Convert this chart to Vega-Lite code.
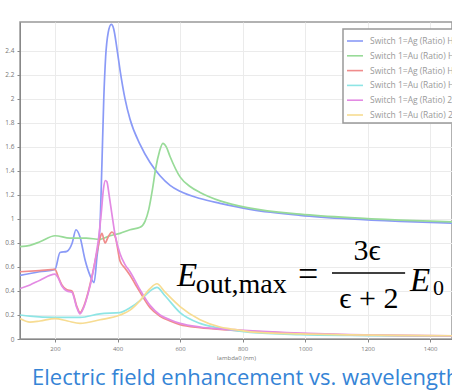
{
  "$schema": "https://vega.github.io/schema/vega-lite/v6.json",
  "width": 432,
  "height": 317,
  "autosize": {"type": "none"},
  "padding": {"left": 20, "top": 22, "right": 0, "bottom": 52},
  "background": "white",
  "title": {
    "text": "Electric field enhancement vs. wavelength",
    "orient": "bottom",
    "anchor": "start",
    "frame": "group",
    "font": "Open Sans",
    "fontSize": 22,
    "fontWeight": "normal",
    "color": "#3584d6",
    "offset": 8,
    "dx": 12
  },
  "config": {
    "view": {"stroke": "#999999", "strokeWidth": 1.5},
    "axis": {"labelOverlap": false, "labelSeparation": 0},
    "legend": {
      "orient": "none",
      "legendX": 323,
      "legendY": 7,
      "title": null,
      "strokeColor": "#999999",
      "strokeWidth": 1.5,
      "fillColor": "white",
      "padding": 3,
      "labelFont": "Open Sans",
      "labelFontSize": 8.5,
      "labelColor": "#999999",
      "labelLimit": 400,
      "labelOffset": 6,
      "symbolType": "stroke",
      "symbolSize": 256,
      "symbolStrokeWidth": 1.6,
      "rowPadding": 0.8
    }
  },
  "datasets": {
    "curves": [
      {"s": "Switch 1=Ag (Ratio) H=1", "wl": 88, "E": 0.53},
      {"s": "Switch 1=Ag (Ratio) H=1", "wl": 150, "E": 0.56},
      {"s": "Switch 1=Ag (Ratio) H=1", "wl": 200, "E": 0.58},
      {"s": "Switch 1=Ag (Ratio) H=1", "wl": 216, "E": 0.72},
      {"s": "Switch 1=Ag (Ratio) H=1", "wl": 238, "E": 0.73},
      {"s": "Switch 1=Ag (Ratio) H=1", "wl": 255, "E": 0.8},
      {"s": "Switch 1=Ag (Ratio) H=1", "wl": 267, "E": 0.91},
      {"s": "Switch 1=Ag (Ratio) H=1", "wl": 280, "E": 0.85},
      {"s": "Switch 1=Ag (Ratio) H=1", "wl": 296, "E": 0.66},
      {"s": "Switch 1=Ag (Ratio) H=1", "wl": 312, "E": 0.53},
      {"s": "Switch 1=Ag (Ratio) H=1", "wl": 325, "E": 0.47},
      {"s": "Switch 1=Ag (Ratio) H=1", "wl": 334, "E": 0.68},
      {"s": "Switch 1=Ag (Ratio) H=1", "wl": 344, "E": 0.95},
      {"s": "Switch 1=Ag (Ratio) H=1", "wl": 350, "E": 1.45},
      {"s": "Switch 1=Ag (Ratio) H=1", "wl": 356, "E": 2.0},
      {"s": "Switch 1=Ag (Ratio) H=1", "wl": 362, "E": 2.35},
      {"s": "Switch 1=Ag (Ratio) H=1", "wl": 370, "E": 2.55},
      {"s": "Switch 1=Ag (Ratio) H=1", "wl": 380, "E": 2.62},
      {"s": "Switch 1=Ag (Ratio) H=1", "wl": 388, "E": 2.58},
      {"s": "Switch 1=Ag (Ratio) H=1", "wl": 398, "E": 2.42},
      {"s": "Switch 1=Ag (Ratio) H=1", "wl": 408, "E": 2.24},
      {"s": "Switch 1=Ag (Ratio) H=1", "wl": 424, "E": 2.0},
      {"s": "Switch 1=Ag (Ratio) H=1", "wl": 440, "E": 1.83},
      {"s": "Switch 1=Ag (Ratio) H=1", "wl": 472, "E": 1.62},
      {"s": "Switch 1=Ag (Ratio) H=1", "wl": 504, "E": 1.47},
      {"s": "Switch 1=Ag (Ratio) H=1", "wl": 536, "E": 1.36},
      {"s": "Switch 1=Ag (Ratio) H=1", "wl": 568, "E": 1.28},
      {"s": "Switch 1=Ag (Ratio) H=1", "wl": 600, "E": 1.23},
      {"s": "Switch 1=Ag (Ratio) H=1", "wl": 664, "E": 1.17},
      {"s": "Switch 1=Ag (Ratio) H=1", "wl": 728, "E": 1.13},
      {"s": "Switch 1=Ag (Ratio) H=1", "wl": 824, "E": 1.08},
      {"s": "Switch 1=Ag (Ratio) H=1", "wl": 984, "E": 1.03},
      {"s": "Switch 1=Ag (Ratio) H=1", "wl": 1144, "E": 1.0},
      {"s": "Switch 1=Ag (Ratio) H=1", "wl": 1304, "E": 0.98},
      {"s": "Switch 1=Ag (Ratio) H=1", "wl": 1470, "E": 0.965},

      {"s": "Switch 1=Au (Ratio) H=1", "wl": 88, "E": 0.77},
      {"s": "Switch 1=Au (Ratio) H=1", "wl": 120, "E": 0.78},
      {"s": "Switch 1=Au (Ratio) H=1", "wl": 152, "E": 0.81},
      {"s": "Switch 1=Au (Ratio) H=1", "wl": 200, "E": 0.86},
      {"s": "Switch 1=Au (Ratio) H=1", "wl": 248, "E": 0.84},
      {"s": "Switch 1=Au (Ratio) H=1", "wl": 300, "E": 0.84},
      {"s": "Switch 1=Au (Ratio) H=1", "wl": 344, "E": 0.83},
      {"s": "Switch 1=Au (Ratio) H=1", "wl": 376, "E": 0.86},
      {"s": "Switch 1=Au (Ratio) H=1", "wl": 408, "E": 0.88},
      {"s": "Switch 1=Au (Ratio) H=1", "wl": 440, "E": 0.91},
      {"s": "Switch 1=Au (Ratio) H=1", "wl": 472, "E": 0.93},
      {"s": "Switch 1=Au (Ratio) H=1", "wl": 488, "E": 0.98},
      {"s": "Switch 1=Au (Ratio) H=1", "wl": 500, "E": 1.08},
      {"s": "Switch 1=Au (Ratio) H=1", "wl": 512, "E": 1.25},
      {"s": "Switch 1=Au (Ratio) H=1", "wl": 522, "E": 1.42},
      {"s": "Switch 1=Au (Ratio) H=1", "wl": 534, "E": 1.56},
      {"s": "Switch 1=Au (Ratio) H=1", "wl": 545, "E": 1.63},
      {"s": "Switch 1=Au (Ratio) H=1", "wl": 556, "E": 1.6},
      {"s": "Switch 1=Au (Ratio) H=1", "wl": 568, "E": 1.52},
      {"s": "Switch 1=Au (Ratio) H=1", "wl": 600, "E": 1.35},
      {"s": "Switch 1=Au (Ratio) H=1", "wl": 632, "E": 1.27},
      {"s": "Switch 1=Au (Ratio) H=1", "wl": 664, "E": 1.22},
      {"s": "Switch 1=Au (Ratio) H=1", "wl": 728, "E": 1.15},
      {"s": "Switch 1=Au (Ratio) H=1", "wl": 824, "E": 1.09},
      {"s": "Switch 1=Au (Ratio) H=1", "wl": 984, "E": 1.04},
      {"s": "Switch 1=Au (Ratio) H=1", "wl": 1144, "E": 1.01},
      {"s": "Switch 1=Au (Ratio) H=1", "wl": 1304, "E": 0.99},
      {"s": "Switch 1=Au (Ratio) H=1", "wl": 1470, "E": 0.975},

      {"s": "Switch 1=Ag (Ratio) H=2", "wl": 88, "E": 0.56},
      {"s": "Switch 1=Ag (Ratio) H=2", "wl": 150, "E": 0.57},
      {"s": "Switch 1=Ag (Ratio) H=2", "wl": 200, "E": 0.58},
      {"s": "Switch 1=Ag (Ratio) H=2", "wl": 210, "E": 0.52},
      {"s": "Switch 1=Ag (Ratio) H=2", "wl": 222, "E": 0.45},
      {"s": "Switch 1=Ag (Ratio) H=2", "wl": 238, "E": 0.41},
      {"s": "Switch 1=Ag (Ratio) H=2", "wl": 254, "E": 0.4},
      {"s": "Switch 1=Ag (Ratio) H=2", "wl": 270, "E": 0.27},
      {"s": "Switch 1=Ag (Ratio) H=2", "wl": 280, "E": 0.22},
      {"s": "Switch 1=Ag (Ratio) H=2", "wl": 290, "E": 0.26},
      {"s": "Switch 1=Ag (Ratio) H=2", "wl": 306, "E": 0.39},
      {"s": "Switch 1=Ag (Ratio) H=2", "wl": 318, "E": 0.52},
      {"s": "Switch 1=Ag (Ratio) H=2", "wl": 334, "E": 0.72},
      {"s": "Switch 1=Ag (Ratio) H=2", "wl": 344, "E": 0.84},
      {"s": "Switch 1=Ag (Ratio) H=2", "wl": 350, "E": 0.88},
      {"s": "Switch 1=Ag (Ratio) H=2", "wl": 360, "E": 0.8},
      {"s": "Switch 1=Ag (Ratio) H=2", "wl": 370, "E": 0.85},
      {"s": "Switch 1=Ag (Ratio) H=2", "wl": 382, "E": 0.89},
      {"s": "Switch 1=Ag (Ratio) H=2", "wl": 394, "E": 0.84},
      {"s": "Switch 1=Ag (Ratio) H=2", "wl": 408, "E": 0.65},
      {"s": "Switch 1=Ag (Ratio) H=2", "wl": 424, "E": 0.59},
      {"s": "Switch 1=Ag (Ratio) H=2", "wl": 440, "E": 0.53},
      {"s": "Switch 1=Ag (Ratio) H=2", "wl": 456, "E": 0.46},
      {"s": "Switch 1=Ag (Ratio) H=2", "wl": 472, "E": 0.39},
      {"s": "Switch 1=Ag (Ratio) H=2", "wl": 504, "E": 0.26},
      {"s": "Switch 1=Ag (Ratio) H=2", "wl": 536, "E": 0.19},
      {"s": "Switch 1=Ag (Ratio) H=2", "wl": 568, "E": 0.15},
      {"s": "Switch 1=Ag (Ratio) H=2", "wl": 600, "E": 0.12},
      {"s": "Switch 1=Ag (Ratio) H=2", "wl": 664, "E": 0.095},
      {"s": "Switch 1=Ag (Ratio) H=2", "wl": 728, "E": 0.08},
      {"s": "Switch 1=Ag (Ratio) H=2", "wl": 792, "E": 0.07},
      {"s": "Switch 1=Ag (Ratio) H=2", "wl": 984, "E": 0.045},
      {"s": "Switch 1=Ag (Ratio) H=2", "wl": 1144, "E": 0.033},
      {"s": "Switch 1=Ag (Ratio) H=2", "wl": 1304, "E": 0.028},
      {"s": "Switch 1=Ag (Ratio) H=2", "wl": 1470, "E": 0.023},

      {"s": "Switch 1=Au (Ratio) H=2", "wl": 88, "E": 0.2},
      {"s": "Switch 1=Au (Ratio) H=2", "wl": 120, "E": 0.19},
      {"s": "Switch 1=Au (Ratio) H=2", "wl": 200, "E": 0.18},
      {"s": "Switch 1=Au (Ratio) H=2", "wl": 280, "E": 0.18},
      {"s": "Switch 1=Au (Ratio) H=2", "wl": 344, "E": 0.21},
      {"s": "Switch 1=Au (Ratio) H=2", "wl": 408, "E": 0.22},
      {"s": "Switch 1=Au (Ratio) H=2", "wl": 440, "E": 0.26},
      {"s": "Switch 1=Au (Ratio) H=2", "wl": 472, "E": 0.32},
      {"s": "Switch 1=Au (Ratio) H=2", "wl": 504, "E": 0.4},
      {"s": "Switch 1=Au (Ratio) H=2", "wl": 526, "E": 0.43},
      {"s": "Switch 1=Au (Ratio) H=2", "wl": 552, "E": 0.36},
      {"s": "Switch 1=Au (Ratio) H=2", "wl": 600, "E": 0.22},
      {"s": "Switch 1=Au (Ratio) H=2", "wl": 664, "E": 0.13},
      {"s": "Switch 1=Au (Ratio) H=2", "wl": 728, "E": 0.09},
      {"s": "Switch 1=Au (Ratio) H=2", "wl": 760, "E": 0.075},
      {"s": "Switch 1=Au (Ratio) H=2", "wl": 824, "E": 0.055},
      {"s": "Switch 1=Au (Ratio) H=2", "wl": 984, "E": 0.037},
      {"s": "Switch 1=Au (Ratio) H=2", "wl": 1144, "E": 0.03},
      {"s": "Switch 1=Au (Ratio) H=2", "wl": 1304, "E": 0.027},
      {"s": "Switch 1=Au (Ratio) H=2", "wl": 1470, "E": 0.024},

      {"s": "Switch 1=Ag (Ratio) 2:1", "wl": 88, "E": 0.42},
      {"s": "Switch 1=Ag (Ratio) 2:1", "wl": 120, "E": 0.45},
      {"s": "Switch 1=Ag (Ratio) 2:1", "wl": 152, "E": 0.49},
      {"s": "Switch 1=Ag (Ratio) 2:1", "wl": 200, "E": 0.54},
      {"s": "Switch 1=Ag (Ratio) 2:1", "wl": 210, "E": 0.51},
      {"s": "Switch 1=Ag (Ratio) 2:1", "wl": 222, "E": 0.44},
      {"s": "Switch 1=Ag (Ratio) 2:1", "wl": 238, "E": 0.4},
      {"s": "Switch 1=Ag (Ratio) 2:1", "wl": 254, "E": 0.39},
      {"s": "Switch 1=Ag (Ratio) 2:1", "wl": 270, "E": 0.26},
      {"s": "Switch 1=Ag (Ratio) 2:1", "wl": 280, "E": 0.21},
      {"s": "Switch 1=Ag (Ratio) 2:1", "wl": 290, "E": 0.25},
      {"s": "Switch 1=Ag (Ratio) 2:1", "wl": 306, "E": 0.38},
      {"s": "Switch 1=Ag (Ratio) 2:1", "wl": 318, "E": 0.51},
      {"s": "Switch 1=Ag (Ratio) 2:1", "wl": 330, "E": 0.68},
      {"s": "Switch 1=Ag (Ratio) 2:1", "wl": 340, "E": 0.85},
      {"s": "Switch 1=Ag (Ratio) 2:1", "wl": 348, "E": 1.05},
      {"s": "Switch 1=Ag (Ratio) 2:1", "wl": 355, "E": 1.25},
      {"s": "Switch 1=Ag (Ratio) 2:1", "wl": 361, "E": 1.32},
      {"s": "Switch 1=Ag (Ratio) 2:1", "wl": 366, "E": 1.31},
      {"s": "Switch 1=Ag (Ratio) 2:1", "wl": 373, "E": 1.2},
      {"s": "Switch 1=Ag (Ratio) 2:1", "wl": 382, "E": 1.04},
      {"s": "Switch 1=Ag (Ratio) 2:1", "wl": 392, "E": 0.87},
      {"s": "Switch 1=Ag (Ratio) 2:1", "wl": 408, "E": 0.71},
      {"s": "Switch 1=Ag (Ratio) 2:1", "wl": 424, "E": 0.62},
      {"s": "Switch 1=Ag (Ratio) 2:1", "wl": 440, "E": 0.56},
      {"s": "Switch 1=Ag (Ratio) 2:1", "wl": 472, "E": 0.41},
      {"s": "Switch 1=Ag (Ratio) 2:1", "wl": 504, "E": 0.28},
      {"s": "Switch 1=Ag (Ratio) 2:1", "wl": 536, "E": 0.2},
      {"s": "Switch 1=Ag (Ratio) 2:1", "wl": 568, "E": 0.16},
      {"s": "Switch 1=Ag (Ratio) 2:1", "wl": 600, "E": 0.13},
      {"s": "Switch 1=Ag (Ratio) 2:1", "wl": 664, "E": 0.1},
      {"s": "Switch 1=Ag (Ratio) 2:1", "wl": 728, "E": 0.085},
      {"s": "Switch 1=Ag (Ratio) 2:1", "wl": 792, "E": 0.075},
      {"s": "Switch 1=Ag (Ratio) 2:1", "wl": 984, "E": 0.05},
      {"s": "Switch 1=Ag (Ratio) 2:1", "wl": 1144, "E": 0.037},
      {"s": "Switch 1=Ag (Ratio) 2:1", "wl": 1304, "E": 0.031},
      {"s": "Switch 1=Ag (Ratio) 2:1", "wl": 1470, "E": 0.026},

      {"s": "Switch 1=Au (Ratio) 2:1", "wl": 88, "E": 0.17},
      {"s": "Switch 1=Au (Ratio) 2:1", "wl": 120, "E": 0.14},
      {"s": "Switch 1=Au (Ratio) 2:1", "wl": 152, "E": 0.15},
      {"s": "Switch 1=Au (Ratio) 2:1", "wl": 200, "E": 0.17},
      {"s": "Switch 1=Au (Ratio) 2:1", "wl": 240, "E": 0.15},
      {"s": "Switch 1=Au (Ratio) 2:1", "wl": 280, "E": 0.13},
      {"s": "Switch 1=Au (Ratio) 2:1", "wl": 344, "E": 0.16},
      {"s": "Switch 1=Au (Ratio) 2:1", "wl": 408, "E": 0.2},
      {"s": "Switch 1=Au (Ratio) 2:1", "wl": 440, "E": 0.24},
      {"s": "Switch 1=Au (Ratio) 2:1", "wl": 472, "E": 0.32},
      {"s": "Switch 1=Au (Ratio) 2:1", "wl": 504, "E": 0.42},
      {"s": "Switch 1=Au (Ratio) 2:1", "wl": 526, "E": 0.46},
      {"s": "Switch 1=Au (Ratio) 2:1", "wl": 552, "E": 0.39},
      {"s": "Switch 1=Au (Ratio) 2:1", "wl": 600, "E": 0.27},
      {"s": "Switch 1=Au (Ratio) 2:1", "wl": 664, "E": 0.16},
      {"s": "Switch 1=Au (Ratio) 2:1", "wl": 728, "E": 0.1},
      {"s": "Switch 1=Au (Ratio) 2:1", "wl": 760, "E": 0.085},
      {"s": "Switch 1=Au (Ratio) 2:1", "wl": 824, "E": 0.06},
      {"s": "Switch 1=Au (Ratio) 2:1", "wl": 984, "E": 0.042},
      {"s": "Switch 1=Au (Ratio) 2:1", "wl": 1144, "E": 0.035},
      {"s": "Switch 1=Au (Ratio) 2:1", "wl": 1304, "E": 0.03},
      {"s": "Switch 1=Au (Ratio) 2:1", "wl": 1470, "E": 0.027}
    ],
    "bigE": [
      {"t": "E", "wl": 590, "E": 0.442},
      {"t": "E", "wl": 1336, "E": 0.4}
    ],
    "sub": [
      {"t": "out,max", "wl": 650, "E": 0.383}
    ],
    "zero": [
      {"t": "0", "wl": 1409, "E": 0.367}
    ],
    "eq": [
      {"t": "=", "wl": 977, "E": 0.442}
    ],
    "frac": [
      {"t": "3ϵ", "wl": 1198, "E": 0.658},
      {"t": "ϵ + 2", "wl": 1204, "E": 0.258}
    ],
    "bar": [
      {"wl": 1086, "wl2": 1320, "E": 0.55}
    ]
  },
  "encoding": {
    "x": {
      "field": "wl", "type": "quantitative",
      "scale": {"domain": [88, 1470], "nice": false, "zero": false},
      "axis": {
        "title": "lambda0 (nm)",
        "values": [200, 400, 600, 800, 1000, 1200, 1400],
        "format": "d",
        "labelOverlap": false,
        "labelFont": "Open Sans", "labelFontSize": 6, "labelColor": "#777777",
        "titleFont": "Open Sans", "titleFontSize": 6, "titleFontWeight": "normal", "titleColor": "#777777",
        "titlePadding": 3,
        "tickSize": 3, "tickColor": "#888888", "labelPadding": 3,
        "domainColor": "#888888",
        "grid": true, "gridColor": "#ebebeb"
      }
    },
    "y": {
      "field": "E", "type": "quantitative",
      "scale": {"domain": [0, 2.64], "nice": false},
      "axis": {
        "title": null,
        "values": [0, 0.2, 0.4, 0.6, 0.8, 1, 1.2, 1.4, 1.6, 1.8, 2, 2.2, 2.4],
        "format": "~g",
        "labelOverlap": false,
        "labelFont": "Open Sans", "labelFontSize": 6.5, "labelColor": "#777777",
        "tickSize": 3, "tickColor": "#888888", "labelPadding": 3,
        "domainColor": "#888888",
        "grid": true, "gridColor": "#ebebeb"
      }
    }
  },
  "layer": [
    {
      "data": {"name": "curves"},
      "mark": {"type": "line", "interpolate": "monotone", "strokeWidth": 1.7, "clip": true},
      "encoding": {
        "color": {
          "field": "s", "type": "nominal",
          "scale": {
            "domain": ["Switch 1=Ag (Ratio) H=1", "Switch 1=Au (Ratio) H=1", "Switch 1=Ag (Ratio) H=2", "Switch 1=Au (Ratio) H=2", "Switch 1=Ag (Ratio) 2:1", "Switch 1=Au (Ratio) 2:1"],
            "range": ["#8a9af7", "#98db98", "#f08c8c", "#8ee5e5", "#e38ae3", "#f7dc92"]
          }
        }
      }
    },
    {
      "data": {"name": "bigE"},
      "mark": {"type": "text", "font": "Liberation Serif", "fontStyle": "italic", "fontSize": 33, "align": "left", "baseline": "alphabetic", "color": "black"},
      "encoding": {"text": {"field": "t"}}
    },
    {
      "data": {"name": "sub"},
      "mark": {"type": "text", "font": "Liberation Serif", "fontSize": 28, "align": "left", "baseline": "alphabetic", "color": "black"},
      "encoding": {"text": {"field": "t"}}
    },
    {
      "data": {"name": "zero"},
      "mark": {"type": "text", "font": "Liberation Serif", "fontSize": 22, "align": "left", "baseline": "alphabetic", "color": "black"},
      "encoding": {"text": {"field": "t"}}
    },
    {
      "data": {"name": "eq"},
      "mark": {"type": "text", "font": "Liberation Serif", "fontSize": 36, "align": "left", "baseline": "alphabetic", "color": "black"},
      "encoding": {"text": {"field": "t"}}
    },
    {
      "data": {"name": "frac"},
      "mark": {"type": "text", "font": "Liberation Serif", "fontSize": 30, "align": "center", "baseline": "alphabetic", "color": "black"},
      "encoding": {"text": {"field": "t"}}
    },
    {
      "data": {"name": "bar"},
      "mark": {"type": "rule", "color": "black", "strokeWidth": 1.4},
      "encoding": {"x2": {"field": "wl2"}}
    }
  ]
}
